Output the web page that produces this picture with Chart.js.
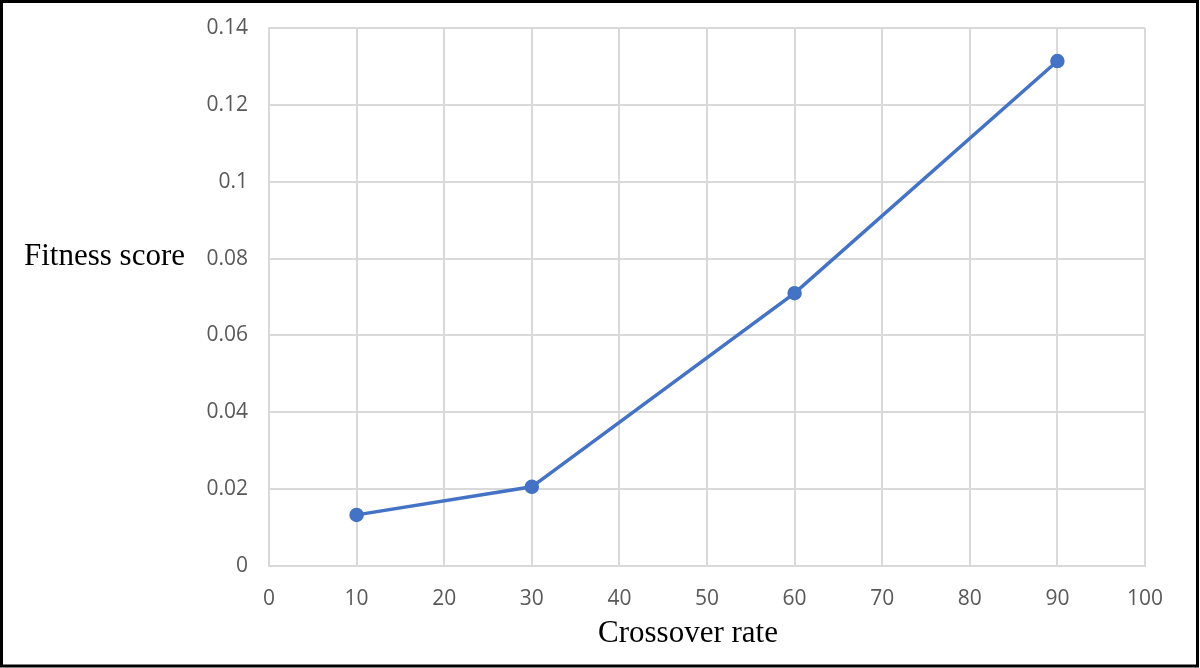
<!DOCTYPE html>
<html>
<head>
<meta charset="utf-8">
<script src="https://cdn.jsdelivr.net/npm/chart.js@4"></script>
<style>
  html, body { margin: 0; padding: 0; background: #fff; }
  canvas { display: block; }
</style>
</head>
<body>
<canvas id="chart" width="1200" height="668"></canvas>
<script>
// Crossover rate (x) vs. fitness score (y)
const crossoverRates = [10, 30, 60, 90];
const fitnessScores = [0.0133, 0.0206, 0.0710, 0.1314];

const xTickValues = [0, 10, 20, 30, 40, 50, 60, 70, 80, 90, 100];
const yTickLabels = ['0', '0.02', '0.04', '0.06', '0.08', '0.1', '0.12', '0.14'];

const xTitle = 'Crossover rate';
const yTitle = 'Fitness score';

const GRID = '#d9d9d9';
const TICK = '#595959';
const LINE = '#4472C4';

// Axis titles (horizontal y title, offset x title) and the outer frame
const decorations = {
  id: 'decorations',
  afterDraw(chart) {
    const { ctx, chartArea } = chart;
    ctx.save();
    ctx.fillStyle = '#000';
    ctx.font = '31px "Liberation Serif", "Times New Roman", serif';
    ctx.textBaseline = 'middle';
    ctx.textAlign = 'left';
    ctx.fillText(yTitle, 24, chartArea.top + 229);
    ctx.textAlign = 'center';
    ctx.fillText(xTitle, chartArea.left + 419, chartArea.bottom + 68);

    ctx.strokeStyle = '#000';
    ctx.lineWidth = 3;
    ctx.strokeRect(1.5, 1.5, 1196, 664.5);
    ctx.restore();
  }
};

new Chart(document.getElementById('chart'), {
  type: 'scatter',
  data: {
    datasets: [{
      data: crossoverRates.map((x, i) => ({ x, y: fitnessScores[i] })),
      showLine: true,
      borderColor: LINE,
      backgroundColor: LINE,
      borderWidth: 3.5,
      pointRadius: 6.5,
      pointBorderWidth: 1.5,
      pointHoverRadius: 6.5,
      tension: 0
    }]
  },
  options: {
    responsive: false,
    animation: false,
    devicePixelRatio: 1,
    layout: { padding: { top: 28, right: 55, left: 0, bottom: 0 } },
    plugins: {
      legend: { display: false },
      tooltip: { enabled: false }
    },
    scales: {
      x: {
        type: 'linear',
        min: xTickValues[0],
        max: xTickValues[xTickValues.length - 1],
        afterBuildTicks(scale) {
          scale.ticks = xTickValues.map(v => ({ value: v }));
        },
        ticks: {
          color: TICK,
          padding: 20,
          font: { family: '"Open Sans", sans-serif', size: 21 },
          callback: v => String(v)
        },
        grid: { color: GRID, lineWidth: 2, drawTicks: false },
        border: { color: GRID, width: 2 },
        afterFit(scale) {
          scale.height = 102;
          scale.paddingLeft = 0;
          scale.paddingRight = 0;
        }
      },
      y: {
        type: 'linear',
        min: 0,
        max: 0.14,
        afterBuildTicks(scale) {
          scale.ticks = yTickLabels.map(l => ({ value: parseFloat(l) }));
        },
        ticks: {
          color: TICK,
          padding: 21,
          font: { family: '"Open Sans", sans-serif', size: 21 },
          callback: (v, i) => yTickLabels[i]
        },
        grid: { color: GRID, lineWidth: 2, drawTicks: false },
        border: { color: GRID, width: 2 },
        afterFit(scale) {
          scale.width = 269;
          scale.paddingTop = 0;
          scale.paddingBottom = 0;
        }
      }
    }
  },
  plugins: [decorations]
});
</script>
</body>
</html>
